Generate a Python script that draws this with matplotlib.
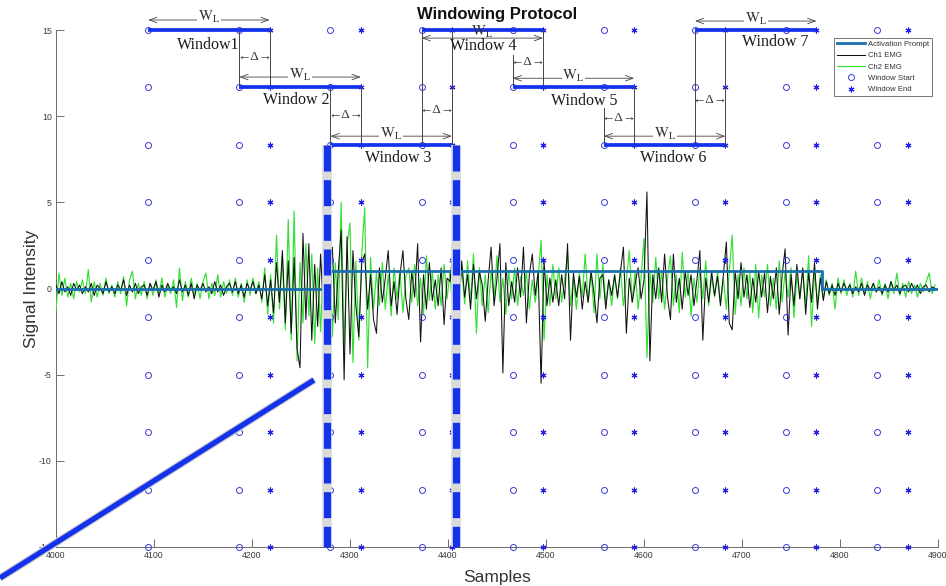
import numpy as np
import matplotlib
matplotlib.use('Agg')
import matplotlib.pyplot as plt
from matplotlib.lines import Line2D

plt.rcParams['font.family'] = ['Liberation Sans', 'DejaVu Sans']
plt.rcParams['mathtext.fontset'] = 'stix'
plt.rcParams['axes.unicode_minus'] = False

# ---------------- data ----------------
SAMPLE_START = 4000
SAMPLE_STEP = 3

ch1_emg = [
    0.2, -0.3, 0.4, -0.2, 0.1, -0.4, 0.3, -0.1, 0.2, -0.3,
    0.1, -0.2, 0.3, -0.4, 0.2, 0.0, -0.3, 0.4, -0.2, 0.1,
    -0.3, 0.2, -0.1, 0.5, -0.4, 0.2, -0.2, 0.3, -0.3, 0.1,
    0.2, -0.4, 0.3, -0.1, 0.4, -0.5, 0.2, -0.2, 0.3, -0.1,
    0.1, -0.3, 0.5, -0.2, 0.2, -0.4, 0.3, -0.6, 0.2, -0.1,
    0.3, -0.2, 0.1, -0.3, 0.4, -0.2, 0.2, -0.4, 0.1, 0.3,
    -0.2, 0.4, -0.3, 0.2, -0.5, 0.3, -0.1, 0.4, -0.3, 0.2,
    -0.6, 0.8, -1.0, 0.5, -1.4, 1.5, -0.8, 2.2, -2.0, 1.6,
    -2.6, 1.8, -3.5, -4.6, 3.2, -1.8, 2.6, -3.0, 1.4, -2.2,
    2.0, -1.5, -2.8, 1.2, 2.4, -2.0, 1.0, 3.4, -5.3, 3.0,
    -3.8, 2.2, -1.0, -2.8, 1.5, 2.0, -1.2, 0.8, -1.8, -2.6,
    1.2, -0.8, 0.6, 2.2, -1.0, 0.4, -1.5, 0.8, 2.2, -0.6,
    -1.8, 1.0, -0.5, 2.6, -3.1, 0.8, -1.2, 1.5, -0.7, 0.5,
    -1.0, 1.2, -2.1, 0.6, 0.4, 2.2, -0.8, -1.4, 1.6, -0.5,
    0.8, -1.2, 1.4, -0.6, 1.0, 0.2, -1.9, 0.5, 2.4, -1.0,
    0.6, 2.6, -4.9, 1.5, -1.0, 0.4, -0.8, 1.2, -0.5, 2.4,
    -2.0, 0.8, 2.0, -0.4, 1.0, -5.5, 1.6, -1.0, 0.6, -0.8,
    0.5, -1.0, 0.8, -0.6, 2.6, -3.0, 0.9, -0.5, 0.7, -1.2,
    0.4, -0.8, 1.0, -0.3, -2.0, 0.6, 0.8, -1.2, 0.5, -0.4,
    0.8, -0.5, 1.0, 2.4, -2.6, 0.6, -0.8, 0.3, 1.2, -0.6,
    0.5, 5.6, -4.2, 0.8, -0.6, 1.2, -0.8, 2.0, -0.5, -1.8,
    2.0, -0.8, 0.6, -1.2, 1.0, -0.4, 0.8, -1.0, 0.5, 2.2,
    -3.0, 0.6, -0.8, 1.0, -0.4, 0.7, -1.0, 0.8, 2.7, -2.0,
    -2.4, 1.0, -0.6, 1.5, -0.5, 0.8, -1.1, 0.6, -0.8, 1.0,
    -0.5, 0.9, -1.4, 0.7, -0.6, 1.2, -1.5, 0.8, 2.3, -2.7,
    0.8, -1.0, 1.4, -0.6, 1.2, -1.5, 0.9, -0.8, 1.5, -1.2,
    0.6, -0.7, 0.4, -0.3, 0.2, -0.4, 0.3, -0.2, 0.3, -0.1,
    0.2, -0.3, 0.1, -0.2, 0.3, -0.4, 0.2, -0.1, 0.3, -0.2,
    0.1, -0.3, 0.2, -0.2, 0.4, -0.1, 0.2, -0.3, 0.1, 0.2,
    -0.2, 0.3, -0.1, 0.2, -0.3, 0.1, 0.2, -0.2, 0.1, 0.0,
]

ch2_emg = [
    -1.3, 0.9, -0.4, 0.6, -0.5, 0.3, -0.6, 0.4, -0.2, 0.5,
    -0.3, 1.1, -0.8, 0.4, -0.5, 0.3, -0.4, 0.6, -0.3, 0.2,
    -0.5, 0.4, -0.3, 0.7, -1.0, 0.5, 1.0, -0.6, 0.3, -0.4,
    0.4, -0.6, 0.3, -0.4, 0.5, -0.3, 0.6, -0.5, 0.2, -0.3,
    0.5, -1.1, 1.2, -0.7, 0.4, -0.5, 0.6, -0.4, 0.3, -0.6,
    0.4, 0.9, -0.6, 0.3, -0.4, 0.8, -0.5, 0.4, -0.3, 0.5,
    -0.4, 0.6, -0.5, 0.3, -0.8, 0.5, -0.4, 0.6, -0.3, 0.4,
    -0.8, 1.2, -1.5, 0.8, -2.0, 3.1, -1.2, 1.8, -2.4, 4.0,
    -3.0, 4.5, -4.2, 1.5, -2.0, 2.6, -1.6, 2.0, -3.2, 1.2,
    -2.5, 1.8, -1.0, 2.2, -2.8, 1.5, -1.8, 5.0, -3.5, 2.5,
    3.8, -4.3, 1.6, -3.0, 2.0, 4.7, -4.6, 1.8, -1.2, 0.9,
    -1.0, 1.5, -1.2, 0.8, -1.6, 1.2, -0.6, 1.0, -1.4, 0.7,
    1.2, -0.8, 1.4, -1.0, 0.6, -1.5, 1.9, -0.7, 1.0, -1.2,
    0.8, -1.0, 1.4, -0.6, 0.9, -1.3, 1.0, -0.5, 1.2, -0.9,
    1.6, -0.8, 2.0, -2.6, 1.2, -1.0, 0.8, -1.4, 1.0, -0.6,
    1.9, -0.8, 0.6, -1.5, 1.0, -0.6, 1.2, -1.0, 0.7, -0.4,
    1.0, -1.2, 0.5, -0.8, 0.6, 2.8, -3.0, 0.8, -1.0, 1.4,
    -0.6, 1.2, -0.8, 0.5, 2.0, -1.0, 0.6, -1.2, 0.9, -0.5,
    2.0, -0.8, 1.0, -1.4, 2.0, -0.6, 1.4, -0.9, 0.5, -1.0,
    0.8, -0.6, 1.2, -1.0, 0.5, 2.2, -0.8, 1.0, -1.2, 0.6,
    2.9, -4.0, 1.0, -0.8, 1.8, -0.6, 1.0, -1.2, 0.6, 1.9,
    -1.0, 0.8, -1.4, 2.1, -0.5, 1.0, -1.6, 0.6, -0.8, 1.2,
    -0.6, 1.6, -1.0, 0.7, -0.5, 1.0, -0.8, 0.6, -1.2, 1.0,
    3.1, -1.5, 0.8, -1.0, 1.2, -0.6, 0.9, -1.4, 1.4, -1.7,
    0.8, -0.5, 1.4, -1.0, 0.6, -1.2, 1.6, -0.8, 1.0, -0.5,
    1.2, -1.7, 0.8, -0.6, 1.0, -1.0, 1.9, -2.2, 1.0, -0.8,
    0.8, -0.6, 0.5, -0.4, 0.3, -1.2, 0.6, -0.3, 0.5, -0.4,
    0.3, -0.5, 1.0, -0.4, 0.6, -0.3, 0.4, -0.6, 0.3, -0.2,
    0.5, -0.4, 0.3, -0.6, 0.4, -0.3, 0.9, -0.4, 0.3, -0.5,
    0.4, -0.3, 0.2, -0.5, 0.3, -0.2, 0.4, 0.9, -0.3, 0.2,
]

prompt_x = [4000, 4280, 4280, 4782, 4782, 4900]
prompt_y = [0, 0, 1, 1, 0, 0]

win_start = [4094, 4187, 4280, 4373, 4466, 4559, 4652, 4745, 4838]
win_end = [4218, 4311, 4404, 4497, 4590, 4683, 4776, 4869]
marker_levels = [15, 11.67, 8.33, 5, 1.67, -1.67, -5, -8.33, -11.67, -15]

window_names = ['Window1', 'Window 2', 'Window 3', 'Window 4',
                'Window 5', 'Window 6', 'Window 7']
window_levels = [15, 11.67, 8.33, 15, 11.67, 8.33, 15]
window_label_x = [4155, 4245, 4349, 4436, 4539, 4630, 4734]
window_label_y = [14.13, 10.93, 7.6, 14.1, 10.87, 7.56, 14.3]
wl_arrow_y = [15.58, 12.27, 8.84, 14.53, 12.2, 8.84, 15.52]
wl_label_dy = [0.15, 0.15, 0.15, 0.38, 0.15, 0.15, 0.15]

delta_y = [13.43, 10.06, 10.35, 13.14, 9.88, 10.93]
vline_start_top = [15, 11.67, 15, 13.55, 10.47, 15]
vline_end_top = [15, 11.67, 15, 15, 11.67, 15]
vline_bottom = [11.67, 8.33, 8.33, 11.67, 8.33, 8.33]

highlight_x = [4277, 4408]
highlight_y = [8.33, -15]

xticks = [4000, 4100, 4200, 4300, 4400, 4500, 4600, 4700, 4800, 4900]
yticks = [-15, -10, -5, 0, 5, 10, 15]

# ---------------- figure ----------------
W, H = 946, 586
fig = plt.figure(figsize=(W / 100, H / 100), dpi=100)
ax = fig.add_axes([56 / W, 1 - 547 / H, (938 - 56) / W, (547 - 30) / H])

samples = SAMPLE_START + SAMPLE_STEP * np.arange(len(ch1_emg))

BAR_BLUE = '#1432ec'
MK_BLUE = '#3a3ad6'
ANN = '#454545'
SERIF = ['Liberation Serif', 'DejaVu Serif']

h_ch2, = ax.plot(samples, ch2_emg, color='#35e035', lw=0.85, zorder=3,
                 label='Ch2 EMG')
h_ch1, = ax.plot(samples, ch1_emg, color='#111111', lw=0.75, zorder=3.5,
                 label='Ch1 EMG')
h_prompt, = ax.plot(prompt_x, prompt_y, color='#1a6fae', lw=2.0, zorder=3.8,
                    label='Activation Prompt')

sx = np.repeat(win_start, len(marker_levels))
sy = np.tile(marker_levels, len(win_start))
ex = np.repeat(win_end, len(marker_levels))
ey = np.tile(marker_levels, len(win_end))
h_start, = ax.plot(sx, sy, linestyle='none', marker='o', ms=4.3, mfc='none',
                   mec=MK_BLUE, mew=0.7, zorder=4, clip_on=False,
                   label='Window Start')
h_end, = ax.plot(ex, ey, linestyle='none', marker=(6, 2, 0), ms=4.2,
                 mfc='none', mec='#1e1ee6', mew=0.8, zorder=4, clip_on=False,
                 label='Window End')

# window bars, arrows and labels
for i in range(7):
    s, e, lvl = win_start[i], win_end[i], window_levels[i]
    ax.plot([s, e], [lvl, lvl], color=BAR_BLUE, lw=2.7, solid_capstyle='butt',
            zorder=6, clip_on=False)
    ya = wl_arrow_y[i]
    ax.annotate('', xy=(e, ya), xytext=(s, ya),
                arrowprops=dict(arrowstyle='<->,head_length=0.55,head_width=0.2',
                                lw=0.6, color=ANN, shrinkA=0, shrinkB=0),
                annotation_clip=False, zorder=6)
    bb = None if i == 3 else dict(facecolor='white', edgecolor='none', pad=0.6)
    ax.text((s + e) / 2, ya + wl_label_dy[i], r'$\mathrm{W_L}$', fontsize=10.5,
            color='#333333', ha='center', va='center', bbox=bb, zorder=7)
    ax.text(window_label_x[i], window_label_y[i], window_names[i],
            family=SERIF, fontsize=11.5, color='#1a1a1a', ha='center',
            va='center', zorder=7)

# delta spacing markers
for i in range(6):
    xs, xe = win_start[i + 1], win_end[i]
    ax.plot([xs, xs], [vline_start_top[i], vline_bottom[i]], color=ANN,
            lw=0.7, zorder=5)
    ax.plot([xe, xe], [vline_end_top[i], vline_bottom[i]], color=ANN,
            lw=0.7, zorder=5)
    ax.text((xs + xe) / 2, delta_y[i], '\u2190\u0394\u2192', family=SERIF,
            fontsize=9.5, color='#333333', ha='center', va='center', zorder=7)

# highlighted window 3 (dashed box)
for x in highlight_x:
    ax.plot([x, x], highlight_y, color='#dadada', lw=7.0,
            solid_capstyle='butt', zorder=7, clip_on=False)
    ax.plot([x, x], highlight_y, color=BAR_BLUE, lw=5.2,
            linestyle=(0, (3.6, 1.2)), dash_capstyle='butt', zorder=8,
            clip_on=False)

# diagonal pointer line (figure coordinates)
fig.add_artist(Line2D([0, 314 / W], [1 - 578 / H, 1 - 380 / H],
                      transform=fig.transFigure, color='#cccccc', lw=5.5,
                      solid_capstyle='butt', zorder=9))
fig.add_artist(Line2D([0, 314 / W], [1 - 578 / H, 1 - 380 / H],
                      transform=fig.transFigure, color=BAR_BLUE, lw=3.8,
                      solid_capstyle='butt', zorder=10))

# axes styling
ax.set_xlim(4000, 4900)
ax.set_ylim(-15, 15)
ax.set_xticks(xticks)
ax.set_yticks(yticks)
for side in ['top', 'right']:
    ax.spines[side].set_visible(False)
for side in ['left', 'bottom']:
    ax.spines[side].set_color('#6a6a6a')
    ax.spines[side].set_linewidth(0.7)
ax.tick_params(direction='in', length=5.5, width=0.6, colors='#555555',
               labelsize=6.3, labelcolor='#3a3a3a', pad=3)

ax.set_xlabel('Samples', fontsize=12.5, color='#333333', labelpad=7)
ax.set_ylabel('Signal Intensity', fontsize=12.5, color='#333333', labelpad=0)
fig.text(497 / W, 1 - 15 / H, 'Windowing Protocol', fontsize=12,
         fontweight='bold', ha='center', va='center', color='#111111')

leg = ax.legend(handles=[h_prompt, h_ch1, h_ch2, h_start, h_end],
                loc='upper right', bbox_to_anchor=(0.993, 0.985),
                borderaxespad=0, fontsize=5.6, frameon=True, fancybox=False,
                edgecolor='#777777', framealpha=1, handlelength=3.6,
                handletextpad=0.4, labelspacing=0.5, borderpad=0.35)
leg.get_frame().set_linewidth(0.7)
leg.set_zorder(20)
for t in leg.get_texts():
    t.set_color('#333333')

fig.savefig('out.png', dpi=100)
